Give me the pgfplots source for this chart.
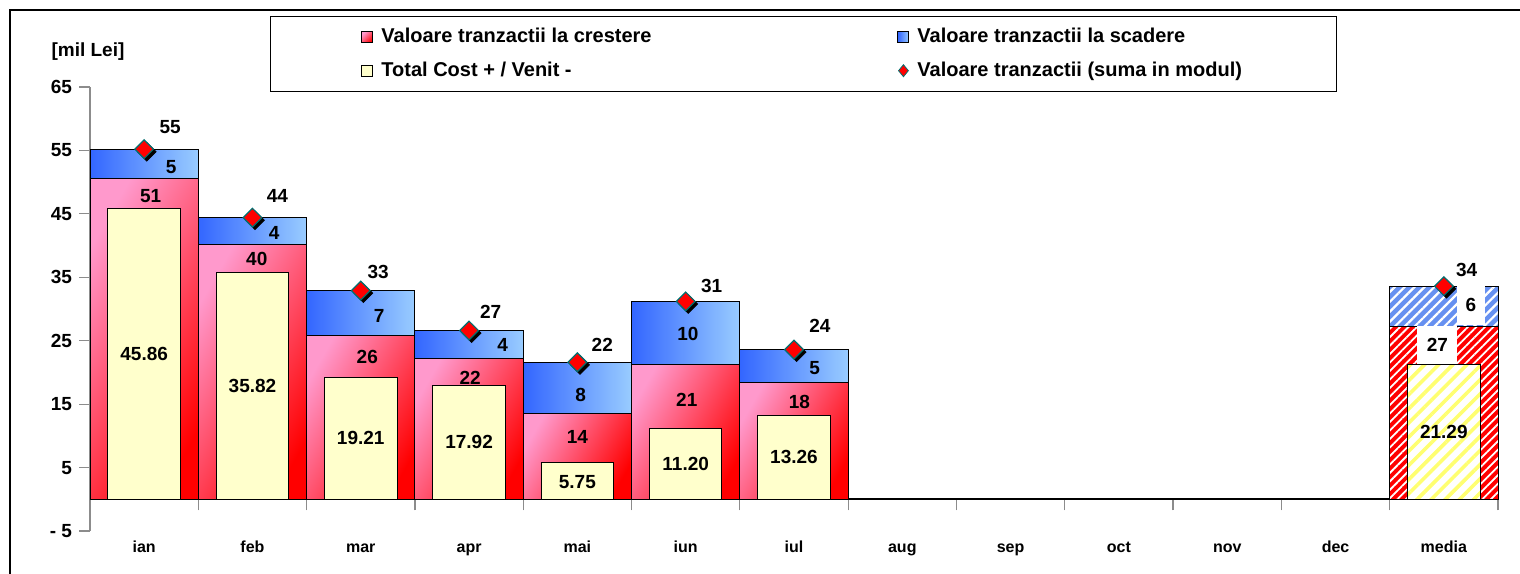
\documentclass[border=0pt]{standalone}
\usepackage{fontspec}
\setmainfont{Liberation Sans}
\usepackage{pgfplots}
\usepackage{pgfplotstable}
\pgfplotsset{compat=1.18}
\usetikzlibrary{patterns.meta}

\definecolor{pinkA}{HTML}{FF99CC}
\definecolor{redB}{HTML}{FF0000}
\definecolor{blueA}{HTML}{3366FF}
\definecolor{blueB}{HTML}{99CCFF}
\definecolor{blueM}{HTML}{6690F0}
\definecolor{yel}{HTML}{FFFFCC}
\definecolor{yelM}{HTML}{FFFF70}
\definecolor{teal2}{HTML}{007070}

% monthly values: x, total (suma in modul), crestere, total cost
\pgfplotstableread{
x tot cre cost
1 55.2 50.6 45.86
2 44.4 40.1 35.82
3 32.9 25.9 19.21
4 26.6 22.2 17.92
5 21.6 13.6 5.75
6 31.2 21.3 11.20
7 23.6 18.4 13.26
}\monthly
\pgfplotstableread{
x tot cre cost
13 33.6 27.3 21.29
}\media
\pgfplotstableread{
x tot
1 55.2
2 44.4
3 32.9
4 26.6
5 21.6
6 31.2
7 23.6
13 33.6
}\diam
% label positions
\pgfplotstableread{
x y lab
1.24 58.7 55
2.23 47.8 44
3.16 35.8 33
4.20 29.5 27
5.23 24.4 22
6.24 33.6 31
7.24 27.4 24
13.21 36.1 34
}\totlab
\pgfplotstableread{
x y lab
1.06 47.8 51
2.04 37.9 40
3.06 22.4 26
4.01 19.1 22
5.00 9.8 14
6.01 15.6 21
7.05 15.3 18
}\redlab
\pgfplotstableread{
x y lab
1.25 52.4 5
2.20 42.0 4
3.17 28.9 7
4.31 24.3 4
5.03 16.4 8
6.02 26.0 10
7.19 20.7 5
}\bluelab
\pgfplotstableread{
x y lab
1 22.9 45.86
2 17.9 35.82
3 9.6 19.21
4 9.0 17.92
6 5.6 11.20
7 6.6 13.26
13 10.6 21.29
}\yellab

\begin{document}
\begin{tikzpicture}
\useasboundingbox (-45pt,-21pt) rectangle (715pt,265.5pt);
\draw[black, line width=0.8pt] (-40pt,-22pt) -- (-40pt,260.5pt) -- (716pt,260.5pt);
\begin{axis}[
  at={(0,0)}, anchor=south west,
  scale only axis, width=704pt, height=222pt,
  xmin=0.5, xmax=13.5, ymin=-5, ymax=65,
  axis x line*=middle, axis y line*=left,
  hide obscured x ticks=false,
  clip=false,
  ytick={-5,5,15,25,35,45,55,65},
  yticklabels={- 5,5,15,25,35,45,55,65},
  xtick={0.5,1.5,...,13.5},
  x tick label as interval,
  xticklabels={ian,feb,mar,apr,mai,iun,iul,aug,sep,oct,nov,dec,media},
  tick align=outside, major tick length=5.5pt,
  y axis line style={gray!90, line width=0.8pt},
  x axis line style={black, line width=1pt},
  tick style={gray!90, line width=0.6pt},
  /pgf/number format/assume math mode=true,
  yticklabel style={font=\bfseries\fontsize{9.5}{11}\selectfont},
  xticklabel style={font=\bfseries\fontsize{8}{10}\selectfont, yshift=-11.5pt,
    text height=6pt, text depth=1.8pt},
  legend columns=2,
  legend cell align=left,
  legend style={at={(0.1278,1.16)}, anchor=north west, draw=black, line width=0.5pt,
    inner xsep=45.5pt, inner ysep=4pt, row sep=4pt,
    font=\bfseries\fontsize{10}{12}\selectfont},
]
% blue (scadere) drawn to full total, red on top; one plot per bar so each bar gets its own gradient
\pgfplotsinvokeforeach{1,...,7}{
\addplot[ybar, bar width=1, bar shift=0pt, draw=black, line width=0.5pt,
  left color=blueA, right color=blueB, forget plot,
  restrict x to domain=#1:#1] table[x=x,y=tot]{\monthly};
\addplot[ybar, bar width=1, bar shift=0pt, draw=black, line width=0.5pt,
  top color=pinkA, bottom color=redB, shading angle=60, forget plot,
  restrict x to domain=#1:#1] table[x=x,y=cre]{\monthly};
}
\addplot[ybar, bar width=0.67, bar shift=0pt, draw=black, line width=0.5pt,
  fill=yel, forget plot] table[x=x,y=cost]{\monthly};
% media (hatched)
\addplot[ybar, bar width=1, bar shift=0pt, draw=black, line width=0.5pt,
  fill=blueM, postaction={pattern={Lines[angle=45,distance=3.5pt,line width=1.1pt]}, pattern color=white},
  forget plot] table[x=x,y=tot]{\media};
\addplot[ybar, bar width=1, bar shift=0pt, draw=black, line width=0.5pt,
  fill=red, postaction={pattern={Lines[angle=45,distance=3pt,line width=0.9pt]}, pattern color=white},
  forget plot] table[x=x,y=cre]{\media};
\addplot[ybar, bar width=0.67, bar shift=0pt, draw=black, line width=0.5pt,
  fill=white, postaction={pattern={Lines[angle=45,distance=5pt,line width=1.8pt]}, pattern color=yelM},
  forget plot] table[x=x,y=cost]{\media};
% diamond shadow
\addplot[only marks, mark=square*, mark size=3.3pt,
  mark options={xshift=1.3pt, yshift=-1.3pt, rotate=45, fill=black, draw=black}, forget plot]
  table[x=x,y=tot]{\diam};
% diamonds
\addplot[only marks, mark=square*, mark size=3.3pt,
  mark options={rotate=45, fill=red, draw=teal2, line width=0.6pt},
  forget plot] table[x=x,y=tot]{\diam};
% value labels
\addplot[draw=none, mark=none, only marks, nodes near coords, point meta=explicit symbolic,
  every node near coord/.append style={anchor=center, font=\bfseries\fontsize{9.5}{11}\selectfont},
  forget plot] table[x=x,y=y,meta=lab]{\totlab};
\addplot[draw=none, mark=none, only marks, nodes near coords, point meta=explicit symbolic,
  every node near coord/.append style={anchor=center, font=\bfseries\fontsize{9.5}{11}\selectfont},
  forget plot] table[x=x,y=y,meta=lab]{\redlab};
\addplot[draw=none, mark=none, only marks, nodes near coords, point meta=explicit symbolic,
  every node near coord/.append style={anchor=center, font=\bfseries\fontsize{9.5}{11}\selectfont},
  forget plot] table[x=x,y=y,meta=lab]{\bluelab};
\addplot[draw=none, mark=none, only marks, nodes near coords, point meta=explicit symbolic,
  every node near coord/.append style={anchor=center, font=\bfseries\fontsize{9.5}{11}\selectfont},
  forget plot] table[x=x,y=y,meta=lab]{\yellab};
\addplot[draw=none, mark=none, only marks, nodes near coords, point meta=explicit symbolic,
  every node near coord/.append style={anchor=center, fill=yel, inner xsep=5pt, inner ysep=2pt,
    font=\bfseries\fontsize{9.5}{11}\selectfont},
  forget plot] coordinates {(5,2.7) [5.75]};
\addplot[draw=none, mark=none, only marks, nodes near coords, point meta=explicit symbolic,
  every node near coord/.append style={anchor=center, fill=white, minimum width=20pt, minimum height=19pt,
    font=\bfseries\fontsize{9.5}{11}\selectfont},
  forget plot] coordinates {(12.94,24.4) [27]};
\addplot[draw=none, mark=none, only marks, nodes near coords, point meta=explicit symbolic,
  every node near coord/.append style={anchor=center, fill=white, minimum width=14pt, minimum height=19.5pt,
    font=\bfseries\fontsize{9.5}{11}\selectfont},
  forget plot] coordinates {(13.25,30.6) [6]};
% legend
\addlegendimage{legend image code/.code={\draw[draw=black, line width=0.5pt, top color=pinkA, bottom color=redB, shading angle=45] (0pt,-2.75pt) rectangle (5.5pt,2.75pt); \path (7.5pt,0pt);}}
\addlegendentry{\makebox[256pt][l]{Valoare tranzactii la crestere}}
\addlegendimage{legend image code/.code={\draw[draw=black, line width=0.5pt, left color=blueA, right color=blueB] (0pt,-2.75pt) rectangle (5.5pt,2.75pt); \path (7.5pt,0pt);}}
\addlegendentry{Valoare tranzactii la scadere}
\addlegendimage{legend image code/.code={\draw[draw=black, line width=0.5pt, fill=yel] (0pt,-2.75pt) rectangle (5.5pt,2.75pt); \path (7.5pt,0pt);}}
\addlegendentry{Total Cost + / Venit -}
\addlegendimage{legend image code/.code={\draw[draw=teal2, fill=red, line width=0.4pt] (2.75pt,-3pt) -- (5.2pt,0pt) -- (2.75pt,3pt) -- (0.3pt,0pt) -- cycle; \path (7.5pt,0pt);}}
\addlegendentry{Valoare tranzactii (suma in modul)}
\node[font=\bfseries\fontsize{9.5}{11}\selectfont, xshift=-1pt, yshift=17.5pt] at (rel axis cs:0,1) {[mil Lei]};
\end{axis}
\end{tikzpicture}
\end{document}
